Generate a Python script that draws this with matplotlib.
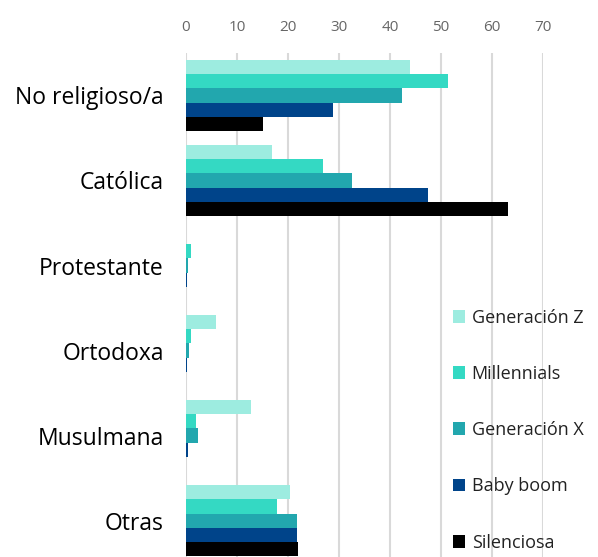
import matplotlib.pyplot as plt
import numpy as np

plt.rcParams['font.family'] = ['Open Sans', 'DejaVu Sans']

categories = ['No religioso/a', 'Católica', 'Protestante', 'Ortodoxa', 'Musulmana', 'Otras']
generations = ['Generación Z', 'Millennials', 'Generación X', 'Baby boom', 'Silenciosa']

gen_z = [44.0, 16.9, 0.0, 5.9, 12.7, 20.3]
millennials = [51.3, 26.9, 0.9, 0.9, 2.0, 17.8]
gen_x = [42.4, 32.6, 0.4, 0.65, 2.3, 21.7]
baby_boom = [28.8, 47.5, 0.25, 0.25, 0.45, 21.7]
silenciosa = [15.1, 63.1, 0.0, 0.0, 0.0, 21.9]

series = [gen_z, millennials, gen_x, baby_boom, silenciosa]
colors = ['#9DECE0', '#34D9C3', '#22A7AE', '#00448A', '#000000']

fig = plt.figure(figsize=(5.98, 5.57), dpi=100)
ax = fig.add_axes([0.311, -0.011, 0.597, 0.916])

y = np.arange(len(categories))
bar_h = 1 / 6
for k, (vals, col, name) in enumerate(zip(series, colors, generations)):
    ax.barh(y + (k - 2) * bar_h, vals, height=bar_h, color=col, label=name, zorder=3)

ax.set_xlim(0, 70)
ax.set_ylim(len(categories) - 0.5, -0.5)
ax.set_xticks(range(0, 71, 10))
ax.xaxis.tick_top()
ax.tick_params(axis='x', length=0, labelsize=11, labelcolor='#666666', pad=13)
ax.tick_params(axis='y', length=0, labelsize=16.5, pad=16)
ax.set_yticks(y)
ax.set_yticklabels(categories)
ax.grid(axis='x', color='#d9d9d9', linewidth=1.5, zorder=0)
for s in ax.spines.values():
    s.set_visible(False)

leg = fig.legend(loc='upper left', bbox_to_anchor=(0.745, 0.459), frameon=False,
                 fontsize=13, handlelength=0.7, handleheight=0.7, handletextpad=0.35,
                 labelspacing=2.12, borderaxespad=0)
for t in leg.get_texts():
    t.set_color('#222222')

fig.savefig('out.png', dpi=100)
